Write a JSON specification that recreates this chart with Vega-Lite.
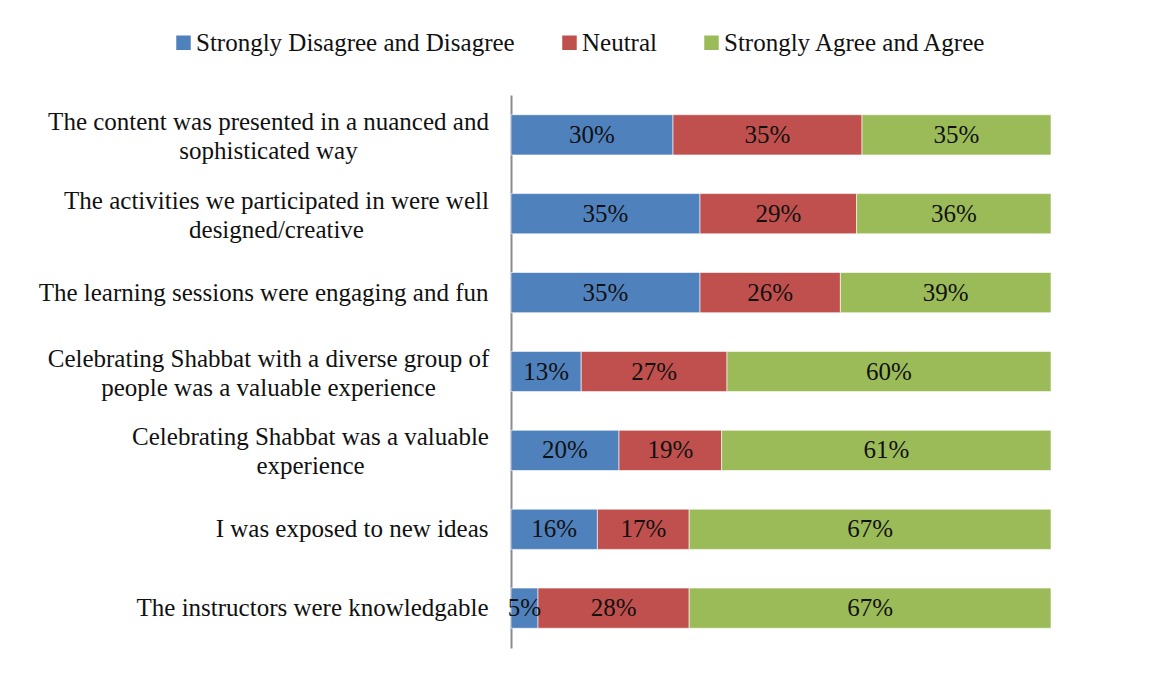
{
  "$schema": "https://vega.github.io/schema/vega-lite/v6.json",
  "autosize": {"type": "none"},
  "width": 540,
  "height": 553,
  "padding": {"left": 511, "top": 95, "right": 107, "bottom": 27},
  "background": "white",
  "config": {
    "view": {"stroke": null},
    "font": "Liberation Serif"
  },
  "data": {
    "values": [
      {"q": "The content was presented in a nuanced and\nsophisticated way", "cat": "Strongly Disagree and Disagree", "v": 30},
      {"q": "The content was presented in a nuanced and\nsophisticated way", "cat": "Neutral", "v": 35},
      {"q": "The content was presented in a nuanced and\nsophisticated way", "cat": "Strongly Agree and Agree", "v": 35},
      {"q": "The activities we participated in were well\ndesigned/creative", "cat": "Strongly Disagree and Disagree", "v": 35},
      {"q": "The activities we participated in were well\ndesigned/creative", "cat": "Neutral", "v": 29},
      {"q": "The activities we participated in were well\ndesigned/creative", "cat": "Strongly Agree and Agree", "v": 36},
      {"q": "The learning sessions were engaging and fun", "cat": "Strongly Disagree and Disagree", "v": 35},
      {"q": "The learning sessions were engaging and fun", "cat": "Neutral", "v": 26},
      {"q": "The learning sessions were engaging and fun", "cat": "Strongly Agree and Agree", "v": 39},
      {"q": "Celebrating Shabbat with a diverse group of\npeople was a valuable experience", "cat": "Strongly Disagree and Disagree", "v": 13},
      {"q": "Celebrating Shabbat with a diverse group of\npeople was a valuable experience", "cat": "Neutral", "v": 27},
      {"q": "Celebrating Shabbat with a diverse group of\npeople was a valuable experience", "cat": "Strongly Agree and Agree", "v": 60},
      {"q": "Celebrating Shabbat was a valuable\nexperience", "cat": "Strongly Disagree and Disagree", "v": 20},
      {"q": "Celebrating Shabbat was a valuable\nexperience", "cat": "Neutral", "v": 19},
      {"q": "Celebrating Shabbat was a valuable\nexperience", "cat": "Strongly Agree and Agree", "v": 61},
      {"q": "I was exposed to new ideas", "cat": "Strongly Disagree and Disagree", "v": 16},
      {"q": "I was exposed to new ideas", "cat": "Neutral", "v": 17},
      {"q": "I was exposed to new ideas", "cat": "Strongly Agree and Agree", "v": 67},
      {"q": "The instructors were knowledgable", "cat": "Strongly Disagree and Disagree", "v": 5},
      {"q": "The instructors were knowledgable", "cat": "Neutral", "v": 28},
      {"q": "The instructors were knowledgable", "cat": "Strongly Agree and Agree", "v": 67}
    ]
  },
  "transform": [
    {"calculate": "indexof(['Strongly Disagree and Disagree','Neutral','Strongly Agree and Agree'], datum.cat)", "as": "o"},
    {"stack": "v", "groupby": ["q"], "sort": [{"field": "o", "order": "ascending"}], "as": ["v0", "v1"]},
    {"calculate": "(datum.v0 + datum.v1) / 2", "as": "mid"},
    {"calculate": "datum.v + '%'", "as": "t"}
  ],
  "encoding": {
    "y": {
      "field": "q",
      "type": "nominal",
      "sort": null,
      "scale": {"paddingInner": 0.49, "paddingOuter": 0.25},
      "axis": {
        "title": null,
        "labelExpr": "split(datum.label, '\\n')",
        "labelFont": "Liberation Serif",
        "labelFontSize": 25,
        "labelColor": "#111111",
        "labelLineHeight": 29,
        "labelAlign": {"condition": {"test": "indexof(datum.label, '\\n') >= 0", "value": "center"}, "value": "right"},
        "labelPadding": {"condition": [
          {"test": "indexof(datum.label, 'nuanced') >= 0", "value": 243},
          {"test": "indexof(datum.label, 'activities') >= 0", "value": 235},
          {"test": "indexof(datum.label, 'diverse') >= 0", "value": 243},
          {"test": "indexof(datum.label, 'valuable\\nexperience') >= 0", "value": 201}
        ], "value": 23},
        "labelOffset": {"condition": {"test": "indexof(datum.label, '\\n') >= 0", "value": -13}, "value": 0},
        "labelLimit": 0,
        "ticks": false,
        "domainColor": "#8c8c8c",
        "domainWidth": 2,
        "grid": false
      }
    }
  },
  "layer": [
    {
      "mark": {"type": "bar", "stroke": "#ffffff", "strokeWidth": 0.6},
      "encoding": {
        "x": {"field": "v0", "type": "quantitative", "scale": {"domain": [0, 100]}, "axis": null},
        "x2": {"field": "v1"},
        "color": {
          "field": "cat",
          "type": "nominal",
          "scale": {
            "domain": ["Strongly Disagree and Disagree", "Neutral", "Strongly Agree and Agree"],
            "range": ["#4F81BD", "#C0504D", "#9BBB59"]
          },
          "legend": {
            "title": null,
            "orient": "none",
            "legendX": -340,
            "legendY": -65,
            "direction": "horizontal",
            "symbolType": "square",
            "symbolSize": 210,
            "symbolStrokeWidth": 0,
            "symbolOpacity": 1,
            "labelFont": "Liberation Serif",
            "labelFontSize": 25,
            "labelColor": "#111111",
            "labelOffset": 0,
            "labelLimit": 0,
            "columnPadding": 42
          }
        }
      }
    },
    {
      "mark": {"type": "text", "font": "Liberation Serif", "fontSize": 25, "color": "#111111", "baseline": "middle", "align": "center"},
      "encoding": {
        "x": {"field": "mid", "type": "quantitative", "scale": {"domain": [0, 100]}},
        "text": {"field": "t"}
      }
    }
  ]
}
